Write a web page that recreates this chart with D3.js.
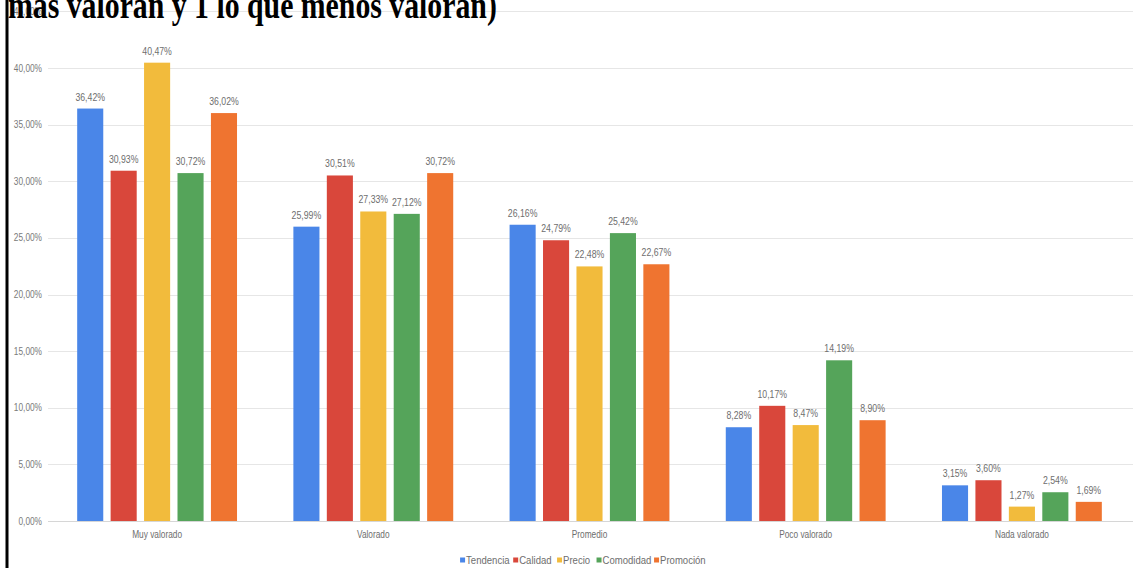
<!DOCTYPE html>
<html>
<head>
<meta charset="utf-8">
<script src="https://cdn.jsdelivr.net/npm/d3@7"></script>
<style>
  html, body { margin: 0; padding: 0; background: #fff; }
  svg { display: block; }
</style>
</head>
<body>
<svg id="chart" width="1137" height="568"></svg>
<script>
// Valoración de atributos por nivel
const categories = ["Muy valorado", "Valorado", "Promedio", "Poco valorado", "Nada valorado"];
const seriesNames = ["Tendencia", "Calidad", "Precio", "Comodidad", "Promoción"];
const tendencia = [36.42, 25.99, 26.16, 8.28, 3.15];
const calidad   = [30.93, 30.51, 24.79, 10.17, 3.60];
const precio    = [40.47, 27.33, 22.48, 8.47, 1.27];
const comodidad = [30.72, 27.12, 25.42, 14.19, 2.54];
const promocion = [36.02, 30.72, 22.67, 8.90, 1.69];
const seriesValues = [tendencia, calidad, precio, comodidad, promocion];
const yTicks = [0, 5, 10, 15, 20, 25, 30, 35, 40, 45];
const titleText = "más valoran y 1 lo que menos valoran)";

const colors = ["#4a86e8", "#d9473b", "#f2bb3c", "#55a45a", "#ef7430"];
const labelFont = "'Liberation Sans', Arial, sans-serif";
const squeeze = 0.83;

// narrow the glyphs of a text selection horizontally
function condense(sel) {
  sel.each(function () {
    const len = this.getComputedTextLength();
    d3.select(this).attr("textLength", len * squeeze).attr("lengthAdjust", "spacingAndGlyphs");
  });
}

const svg = d3.select("#chart");

const y = d3.scaleLinear().domain([0, 40]).range([521, 68]);
const x0 = d3.scaleBand().domain(categories).range([49, 1130]).padding(0);
const x1 = d3.scaleBand().domain(seriesNames)
  .range([24.5, x0.bandwidth() - 24.5]).paddingInner(0.22).paddingOuter(0.11);

const fmt = v => d3.format(".2f")(v).replace(".", ",") + "%";

// gridlines
svg.append("g").selectAll("line").data(yTicks).join("line")
  .attr("x1", 48).attr("x2", 1133)
  .attr("y1", d => Math.round(y(d)) + 0.5).attr("y2", d => Math.round(y(d)) + 0.5)
  .attr("stroke", d => d === 0 ? "#d6d6d6" : "#e6e6e6").attr("stroke-width", 1);

// y axis labels
svg.append("g").selectAll("text").data(yTicks).join("text")
  .attr("x", 42).attr("y", d => y(d) + 3.5)
  .attr("text-anchor", "end")
  .attr("font-family", labelFont).attr("font-size", 10)
  .attr("fill", "#7a7a7a")
  .text(d => fmt(d))
  .call(condense);

// bars
const groups = svg.append("g").selectAll("g").data(categories).join("g")
  .attr("transform", c => `translate(${x0(c)},0)`);

groups.each(function (c, ci) {
  const g = d3.select(this);
  const rows = seriesNames.map((s, si) => ({ s, si, v: seriesValues[si][ci] }));
  g.selectAll("rect").data(rows).join("rect")
    .attr("x", d => x1(d.s)).attr("width", x1.bandwidth())
    .attr("y", d => y(d.v)).attr("height", d => y(0) - y(d.v))
    .attr("fill", d => colors[d.si]);
  g.selectAll("text.val").data(rows).join("text").attr("class", "val")
    .attr("x", d => x1(d.s) + x1.bandwidth() / 2)
    .attr("y", d => y(d.v) - 8)
    .attr("text-anchor", "middle")
    .attr("font-family", labelFont).attr("font-size", 10.5)
    .attr("fill", "#6e6e6e")
    .text(d => fmt(d.v))
    .call(condense);
});

// category labels
svg.append("g").selectAll("text").data(categories).join("text")
  .attr("x", c => x0(c) + x0.bandwidth() / 2).attr("y", 538)
  .attr("text-anchor", "middle")
  .attr("font-family", labelFont).attr("font-size", 10)
  .attr("fill", "#6e6e6e")
  .text(c => c)
  .call(condense);

// legend
const legend = svg.append("g");
let lx = 0;
seriesNames.forEach((s, i) => {
  const it = legend.append("g").attr("transform", `translate(${lx},0)`);
  it.append("rect").attr("x", 0).attr("y", -6.5).attr("width", 5).attr("height", 5).attr("fill", colors[i]);
  const t = it.append("text").attr("x", 6).attr("y", 0)
    .attr("font-family", labelFont).attr("font-size", 11.5).attr("fill", "#6e6e6e").text(s)
    .call(condense);
  lx += 6 + t.node().getComputedTextLength() * squeeze + 11;
});
const totalW = lx - 11;
legend.attr("transform", `translate(${579 - totalW / 2},564)`);

// left frame line
svg.append("line").attr("x1", 7).attr("x2", 7).attr("y1", 0).attr("y2", 568)
  .attr("stroke", "#000").attr("stroke-width", 3);

// title fragment, stretched vertically, ascenders running off the top
const title = svg.append("text")
  .attr("x", 0).attr("y", 0)
  .attr("font-family", "'Liberation Serif', 'Times New Roman', serif")
  .attr("font-weight", "bold").attr("font-size", 24)
  .attr("fill", "#000")
  .text(titleText);
const tw = title.node().getComputedTextLength();
title.attr("font-size", 24 * 489 / tw)
  .attr("transform", "translate(8,18) scale(1,1.3)");
</script>
</body>
</html>
